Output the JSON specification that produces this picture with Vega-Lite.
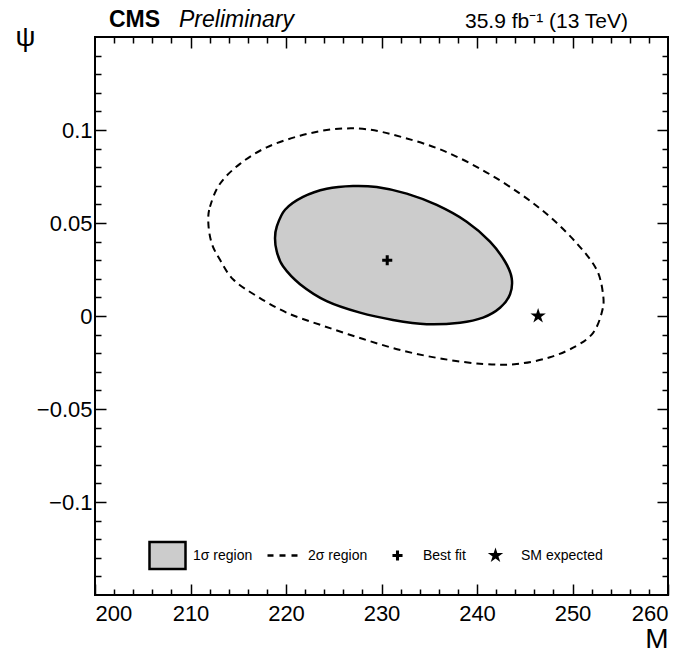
{
  "$schema": "https://vega.github.io/schema/vega-lite/v6.json",
  "width": 573,
  "height": 558,
  "autosize": {"type": "none"},
  "padding": {"left": 95, "top": 37, "right": 21, "bottom": 59},
  "background": "white",
  "config": {
    "view": {"stroke": "black", "strokeWidth": 2},
    "font": "Liberation Sans",
    "axis": {"grid": false, "domain": false, "tickColor": "black", "tickWidth": 1.5, "labelColor": "black", "labelFont": "Liberation Sans", "labelFontSize": 22, "titleColor": "black", "titleFont": "Liberation Sans", "titleFontWeight": "normal"},
    "legend": {"orient": "none", "legendX": 53, "legendY": 499, "direction": "horizontal", "labelFont": "Liberation Sans", "labelFontSize": 14, "labelColor": "black", "labelOffset": 6, "columnPadding": 6, "symbolStrokeWidth": 2.5, "symbolSize": 1296, "padding": 0}
  },
  "datasets": {
    "sigma1": [
      {"M": 218.85, "psi": 0.0418}, {"M": 219.03, "psi": 0.048}, {"M": 219.9, "psi": 0.0571}, {"M": 221.78, "psi": 0.064},
      {"M": 224.26, "psi": 0.0684}, {"M": 227.02, "psi": 0.0699}, {"M": 229.5, "psi": 0.0693}, {"M": 232.64, "psi": 0.0658},
      {"M": 235.78, "psi": 0.0597}, {"M": 238.92, "psi": 0.0507}, {"M": 241.36, "psi": 0.04}, {"M": 242.93, "psi": 0.0293},
      {"M": 243.63, "psi": 0.0204}, {"M": 243.46, "psi": 0.0117}, {"M": 242.41, "psi": 0.0044}, {"M": 240.63, "psi": -0.0009},
      {"M": 238.22, "psi": -0.0036}, {"M": 234.73, "psi": -0.0044}, {"M": 231.2, "psi": -0.0021}, {"M": 227.75, "psi": 0.0018},
      {"M": 224.26, "psi": 0.008}, {"M": 221.47, "psi": 0.0171}, {"M": 219.69, "psi": 0.0267}, {"M": 219.03, "psi": 0.0347}
    ],
    "sigma2": [
      {"M": 211.87, "psi": 0.0498}, {"M": 212.04, "psi": 0.0587}, {"M": 213.09, "psi": 0.0711}, {"M": 215.18, "psi": 0.0818},
      {"M": 217.98, "psi": 0.0907}, {"M": 221.47, "psi": 0.0969}, {"M": 224.96, "psi": 0.1004}, {"M": 228.45, "psi": 0.1004},
      {"M": 232.28, "psi": 0.096}, {"M": 236.47, "psi": 0.0889}, {"M": 240.66, "psi": 0.0782}, {"M": 244.5, "psi": 0.0658},
      {"M": 247.64, "psi": 0.0533}, {"M": 250.44, "psi": 0.0391}, {"M": 252.53, "psi": 0.0249}, {"M": 253.22, "psi": 0.0107},
      {"M": 253.06, "psi": 0.0018}, {"M": 252.18, "psi": -0.0089}, {"M": 250.44, "psi": -0.016}, {"M": 247.64, "psi": -0.0222},
      {"M": 244.16, "psi": -0.0258}, {"M": 240.66, "psi": -0.0258}, {"M": 236.47, "psi": -0.0231}, {"M": 232.28, "psi": -0.0187},
      {"M": 228.09, "psi": -0.0124}, {"M": 223.9, "psi": -0.0053}, {"M": 220.07, "psi": 0.0018}, {"M": 216.93, "psi": 0.0107},
      {"M": 214.48, "psi": 0.0196}, {"M": 213.09, "psi": 0.0302}, {"M": 212.22, "psi": 0.0391}
    ],
    "points": [
      {"M": 230.6, "psi": 0.03, "item": "Best fit"},
      {"M": 246.4, "psi": 0.0, "item": "SM expected"}
    ]
  },
  "resolve": {"axis": {"x": "independent", "y": "independent"}},
  "layer": [
    {
      "data": {"name": "sigma2"},
      "mark": {"type": "line", "interpolate": "cardinal-closed", "stroke": "black", "strokeWidth": 2, "strokeDash": [7, 5]},
      "encoding": {
        "x": {"field": "M", "type": "quantitative", "scale": {"domain": [200, 260], "nice": false, "zero": false},
          "axis": {"orient": "bottom", "values": [200,202,204,206,208,210,212,214,216,218,220,222,224,226,228,230,232,234,236,238,240,242,244,246,248,250,252,254,256,258,260],
            "labelExpr": "datum.value % 10 === 0 ? datum.label : ''",
            "tickSize": {"condition": {"test": "datum.value % 10 === 0", "value": -11}, "value": -6},
            "labelPadding": 19, "title": "M", "titleFontSize": 28, "titleX": 573, "titleY": 52, "titleAlign": "right", "titleBaseline": "alphabetic"}},
        "y": {"field": "psi", "type": "quantitative", "scale": {"domain": [-0.15, 0.15], "nice": false, "zero": false},
          "axis": {"orient": "left", "values": [-0.14,-0.13,-0.12,-0.11,-0.1,-0.09,-0.08,-0.07,-0.06,-0.05,-0.04,-0.03,-0.02,-0.01,0,0.01,0.02,0.03,0.04,0.05,0.06,0.07,0.08,0.09,0.1,0.11,0.12,0.13,0.14],
            "labelExpr": "abs(round(datum.value*100)) % 5 === 0 ? format(datum.value, '~g') : ''",
            "tickSize": {"condition": {"test": "abs(round(datum.value*100)) % 5 === 0", "value": -11}, "value": -6},
            "labelPadding": 14, "title": "ψ", "titleFontSize": 28, "titleAngle": 0, "titleX": -70, "titleY": 8, "titleAlign": "center", "titleBaseline": "alphabetic"}},
        "order": {"value": null}
      }
    },
    {
      "data": {"name": "sigma1"},
      "mark": {"type": "line", "interpolate": "cardinal-closed", "fill": "#cccccc", "stroke": "black", "strokeWidth": 2.5},
      "encoding": {
        "x": {"field": "M", "type": "quantitative", "scale": {"domain": [200, 260], "nice": false, "zero": false},
          "axis": {"orient": "top", "values": [202,204,206,208,210,212,214,216,218,220,222,224,226,228,230,232,234,236,238,240,242,244,246,248,250,252,254,256,258],
            "labels": false, "title": null,
            "tickSize": {"condition": {"test": "datum.value % 10 === 0", "value": -11}, "value": -6}}},
        "y": {"field": "psi", "type": "quantitative", "scale": {"domain": [-0.15, 0.15], "nice": false, "zero": false},
          "axis": {"orient": "right", "values": [-0.14,-0.13,-0.12,-0.11,-0.1,-0.09,-0.08,-0.07,-0.06,-0.05,-0.04,-0.03,-0.02,-0.01,0,0.01,0.02,0.03,0.04,0.05,0.06,0.07,0.08,0.09,0.1,0.11,0.12,0.13,0.14],
            "labels": false, "title": null,
            "tickSize": {"condition": {"test": "abs(round(datum.value*100)) % 5 === 0", "value": -11}, "value": -6}}},
        "order": {"value": null}
      }
    },
    {
      "data": {"name": "points"},
      "mark": {"type": "point", "filled": true, "opacity": 1, "strokeWidth": 2.5, "size": 1296},
      "encoding": {
        "x": {"field": "M", "type": "quantitative", "scale": {"domain": [200, 260], "nice": false, "zero": false}, "axis": null},
        "y": {"field": "psi", "type": "quantitative", "scale": {"domain": [-0.15, 0.15], "nice": false, "zero": false}, "axis": null},
        "shape": {"field": "item", "type": "nominal", "legend": {"title": null},
          "scale": {"domain": ["1σ region", "2σ region", "Best fit", "SM expected"],
            "range": ["M-1,-0.75L1,-0.75L1,0.75L-1,0.75Z", "M-1,-0.75L-1,-0.75M1,0.75L1,0.75M-0.833,0L-0.5,0M-0.167,0L0.167,0M0.5,0L0.833,0", "M-1,-0.75L-1,-0.75M1,0.75L1,0.75M-0.28,-0.085L-0.085,-0.085L-0.085,-0.28L0.085,-0.28L0.085,-0.085L0.28,-0.085L0.28,0.085L0.085,0.085L0.085,0.28L-0.085,0.28L-0.085,0.085L-0.28,0.085Z", "M-1,-0.75L-1,-0.75M1,0.75L1,0.75M0,-0.45L0.101,-0.139L0.428,-0.139L0.163,0.053L0.265,0.364L0,0.172L-0.265,0.364L-0.163,0.053L-0.428,-0.139L-0.101,-0.139Z"]}},
        "fill": {"field": "item", "type": "nominal", "legend": {"title": null},
          "scale": {"domain": ["1σ region", "2σ region", "Best fit", "SM expected"], "range": ["#cccccc", "transparent", "black", "black"]}},
        "stroke": {"field": "item", "type": "nominal", "legend": {"title": null},
          "scale": {"domain": ["1σ region", "2σ region", "Best fit", "SM expected"], "range": ["black", "black", "transparent", "transparent"]}}
      }
    },
    {
      "data": {"values": [{}]},
      "mark": {"type": "text", "text": "CMS", "font": "Liberation Sans", "fontWeight": "bold", "fontSize": 23, "align": "left", "baseline": "alphabetic", "dx": 14, "dy": -10, "color": "black"},
      "encoding": {
        "x": {"datum": 200, "type": "quantitative", "axis": null},
        "y": {"datum": 0.15, "type": "quantitative", "axis": null}
      }
    },
    {
      "data": {"values": [{}]},
      "mark": {"type": "text", "text": "Preliminary", "font": "Liberation Sans", "fontStyle": "italic", "fontSize": 23, "align": "left", "baseline": "alphabetic", "dx": 84, "dy": -10, "color": "black"},
      "encoding": {
        "x": {"datum": 200, "type": "quantitative", "axis": null},
        "y": {"datum": 0.15, "type": "quantitative", "axis": null}
      }
    },
    {
      "data": {"values": [{}]},
      "mark": {"type": "text", "text": "35.9 fb⁻¹ (13 TeV)", "font": "Liberation Sans", "fontSize": 21, "align": "right", "baseline": "alphabetic", "dx": -40, "dy": -9, "color": "black"},
      "encoding": {
        "x": {"datum": 260, "type": "quantitative", "axis": null},
        "y": {"datum": 0.15, "type": "quantitative", "axis": null}
      }
    }
  ]
}
